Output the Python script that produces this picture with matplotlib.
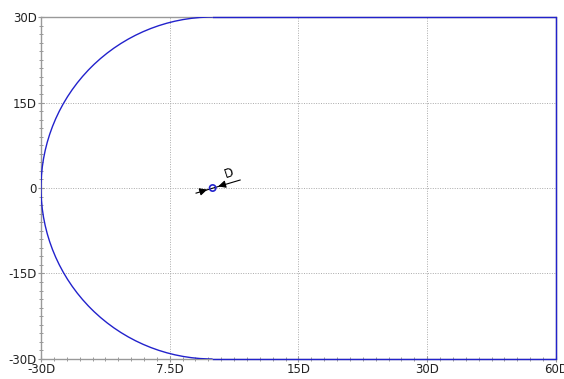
import numpy as np
import matplotlib
matplotlib.use("Agg")
import matplotlib.pyplot as plt
from matplotlib.patches import Arc, Circle
from matplotlib.ticker import AutoMinorLocator

# axis ticks and labels (in units of D)
x_ticks = [-30, -7.5, 15, 37.5, 60]
x_labels = ['-30D', '7.5D', '15D', '30D', '60D']
y_ticks = [-30, -15, 0, 15, 30]
y_labels = ['-30D', '-15D', '0', '15D', '30D']

# boundary: half circle of radius R around the origin, then straight to x_end
R = 30
x_end = 60

# arrow marking the diameter D at the origin
arrow_start = (-2.9, -0.9)
arrow_end = (4.8, 1.4)
d_label_pos = (2.9, 1.3)
marker_radius = 0.55

fig = plt.figure(figsize=(5.64, 3.79), dpi=100)
ax = fig.add_axes([0.0727, 0.0528, 0.9131, 0.9023])

blue = '#2222cc'
ax.add_patch(Arc((0, 0), 2 * R, 2 * R, theta1=90, theta2=270, color=blue, lw=1.0, zorder=3))
ax.plot([0, x_end, x_end, 0], [R, R, -R, -R], color=blue, lw=1.0, zorder=3, clip_on=False)

# diameter arrow
ax.plot([arrow_start[0], arrow_end[0]], [arrow_start[1], arrow_end[1]], color='black', lw=0.8, zorder=4)
ax.annotate('', xy=(-0.5, -0.15), xytext=(-2.4, -0.72),
            arrowprops=dict(arrowstyle='-|>', color='black', lw=0.8, mutation_scale=11), zorder=4)
ax.annotate('', xy=(0.5, 0.15), xytext=(2.4, 0.72),
            arrowprops=dict(arrowstyle='-|>', color='black', lw=0.8, mutation_scale=11), zorder=4)
ax.add_patch(Circle((0, 0), marker_radius, fill=False, ec=blue, lw=1.2, zorder=5))
ax.text(d_label_pos[0], d_label_pos[1], 'D', fontsize=8.5, rotation=18, ha='center', va='bottom')

ax.set_xlim(-30, 60)
ax.set_ylim(-30, 30)
ax.set_xticks(x_ticks)
ax.set_xticklabels(x_labels)
ax.set_yticks(y_ticks)
ax.set_yticklabels(y_labels)
ax.xaxis.set_minor_locator(AutoMinorLocator(10))
ax.yaxis.set_minor_locator(AutoMinorLocator(10))
ax.tick_params(which='both', direction='inout', colors='#999999', labelcolor='#222222', labelsize=8.5)
ax.tick_params(which='major', length=4, width=0.8)
ax.tick_params(which='minor', length=2.5, width=0.7)
ax.tick_params(axis='x', pad=1)
ax.tick_params(axis='y', pad=1)
ax.grid(True, which='major', color='#aaaaaa', ls=(0, (1, 1.5)), lw=0.7)

for s in ax.spines.values():
    s.set_color('#999999')
    s.set_linewidth(1.0)

fig.savefig('out.png', dpi=100)
